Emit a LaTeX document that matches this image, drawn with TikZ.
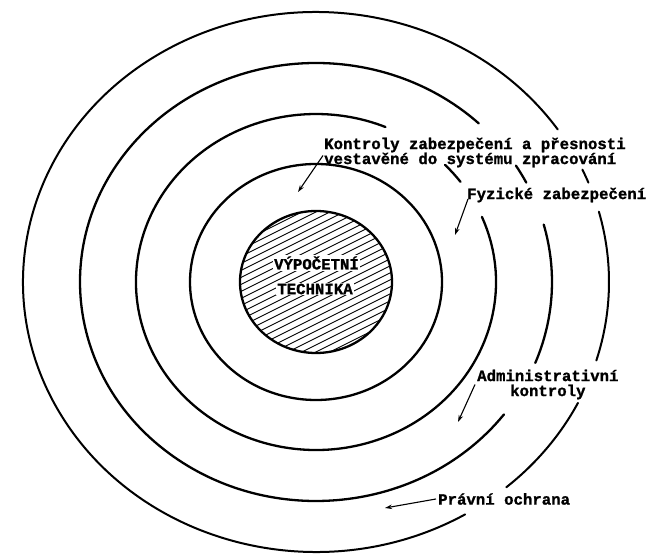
\documentclass[tikz,border=0pt]{standalone}
\usepackage{fontspec}
\setmonofont{Liberation Mono}[BoldFeatures={FakeBold=1.2}]
\usetikzlibrary{arrows.meta}
\newcommand{\ringarc}[5][]{\draw[ring,#1] (C) ++(#2:#4 and #5) arc[start angle=#2, end angle=#3, x radius=#4, y radius=#5];}
\begin{document}
\begin{tikzpicture}[x=1pt,y=1pt,
  ring/.style={line width=2.3pt, line cap=round},
  lbl/.style={font=\ttfamily\bfseries\fontsize{15.7}{15}\selectfont, inner sep=0pt, text=black},
  coretext/.style={font=\ttfamily\bfseries\fontsize{15.7}{15}\selectfont, inner sep=1pt, fill=white},
  arr/.style={line width=1.1pt, -{Stealth[length=7pt,width=4.5pt]}},
  hatch/.style={line width=0.9pt}]
\fill[white] (0,0) rectangle (646,556);
\useasboundingbox (0,0) rectangle (646,556);
\coordinate (C) at (316,274);

% core with hatching
\begin{scope}
  \clip (C) ellipse [x radius=76, y radius=71];
  \foreach \k in {-18,...,18}
    \draw[hatch, shift={(316,274)}] (-100,{\k*7-50}) -- (100,{\k*7+50});
\end{scope}
\draw[ring] (C) ellipse [x radius=76, y radius=71];
\node[coretext] (core1) at (316.5,293) {VÝPOČETNÍ};
\node[coretext] (core2) at (315,267) {TECHNIKA};

% ring 1 (full)
\draw[ring] (C) ellipse [x radius=126, y radius=118];

% ring 2
\ringarc{22.8}{-292.7}{180}{168}
\ringarc{44.2}{36.6}{180}{168}

% ring 3
\ringarc{-37.2}{-313.6}{236}{219}
\ringarc{15.2}{-21.7}{236}{219}
\ringarc{32.1}{27.0}{236}{219}

% ring 4
\ringarc[line width=2pt]{-59.4}{-325.6}{293}{270}
\ringarc[line width=2pt]{-26.6}{-49.5}{293}{270}
\ringarc[line width=2pt]{15.1}{-16.9}{293}{270}
\ringarc[line width=2pt]{24.6}{21.6}{293}{270}

% labels
\node[lbl, anchor=west, align=left] (lblK) at (324,403.5)
  {Kontroly zabezpečení a přesnosti\\vestavěné do systému zpracování};
\node[lbl, anchor=west] (lblF) at (467,361) {Fyzické zabezpečení};
\node[lbl, anchor=west, align=center] (lblA) at (477,171.5) {Administrativní\\kontroly};
\node[lbl, anchor=west] (lblP) at (438,57) {Právní ochrana};

% arrow targets
\coordinate (tK) at (298,364);
\coordinate (tF) at (455,321);
\coordinate (tA) at (458,134);
\coordinate (tP) at (385,48);

\draw[arr] ([xshift=-1pt,yshift=-3pt]lblK.west) -- (tK);
\draw[arr] ([xshift=1pt,yshift=-4pt]lblF.west) -- (tF);
\draw[arr] ([xshift=-2pt,yshift=0pt]lblA.west) -- (tA);
\draw[arr] ([xshift=-2pt]lblP.west) -- (tP);
\end{tikzpicture}
\end{document}
